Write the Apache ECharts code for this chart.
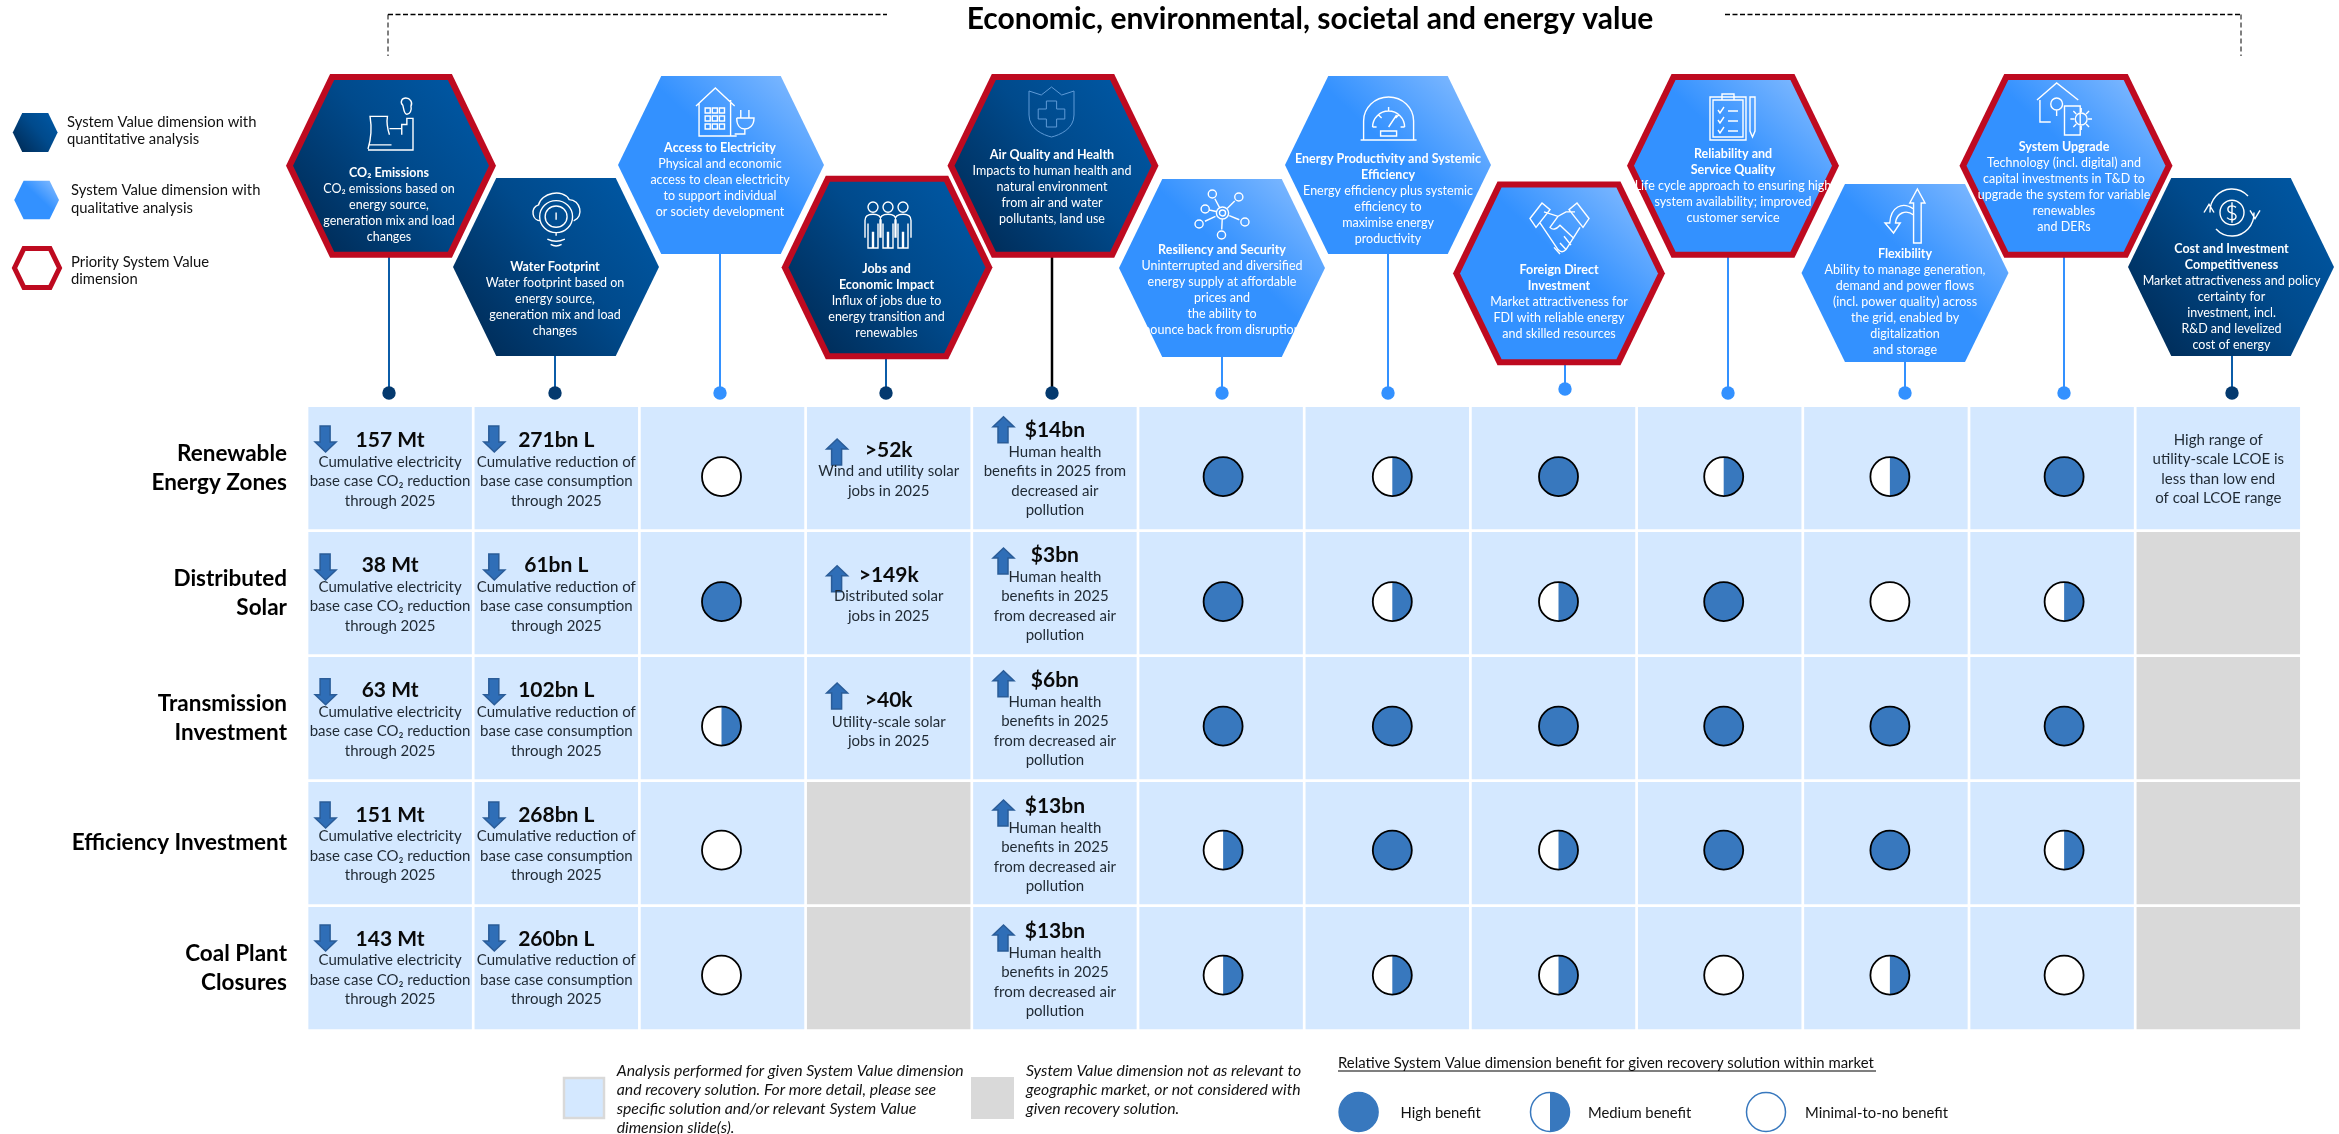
<!DOCTYPE html>
<html>
<head>
<meta charset="utf-8">
<title>System value matrix</title>
<style>
  html, body { margin: 0; padding: 0; background: #fff; }
  #main { width: 2339px; height: 1134px; }
</style>
<script src="https://cdn.jsdelivr.net/npm/echarts@6/dist/echarts.min.js"></script>
</head>
<body>
<div id="main"></div>
<script>
  // chart data
  const rows = ['Renewable\nEnergy Zones', 'Distributed\nSolar', 'Transmission\nInvestment', 'Efficiency Investment', 'Coal Plant\nClosures']
  const columns = ['CO2 Emissions', 'Water Footprint', 'Access to Electricity', 'Jobs and Economic Impact', 'Air Quality and Health', 'Resiliency and Security',
    'Energy Productivity', 'Foreign Direct Investment', 'Reliability', 'Flexibility', 'System Upgrade', 'Cost and Investment']

  const co2Values = ['157 Mt', '38 Mt', '63 Mt', '151 Mt', '143 Mt']
  const co2Note = 'Cumulative electricity\nbase case CO₂ reduction\nthrough 2025'
  const waterValues = ['271bn L', '61bn L', '102bn L', '268bn L', '260bn L']
  const waterNote = 'Cumulative reduction of\nbase case consumption\nthrough 2025'
  const jobsValues = ['>52k', '>149k', '>40k', null, null]
  const jobsNotes = ['Wind and utility solar\njobs in 2025', 'Distributed solar\njobs in 2025', 'Utility-scale solar\njobs in 2025', null, null]
  const healthValues = ['$14bn', '$3bn', '$6bn', '$13bn', '$13bn']
  const healthNoteFirst = 'Human health\nbenefits in 2025 from\ndecreased air\npollution'
  const healthNote = 'Human health\nbenefits in 2025\nfrom decreased air\npollution'
  const costNote = 'High range of\nutility-scale LCOE is\nless than low end\nof coal LCOE range'

  // 1 high, 0.5 medium, 0 minimal-to-no benefit
  const accessBenefit = [0, 1, 0.5, 0, 0]
  const resiliencyBenefit = [1, 1, 1, 0.5, 0.5]
  const productivityBenefit = [0.5, 0.5, 1, 1, 0.5]
  const fdiBenefit = [1, 0.5, 1, 0.5, 0.5]
  const reliabilityBenefit = [0.5, 1, 1, 1, 0]
  const flexibilityBenefit = [0.5, 0, 1, 1, 0.5]
  const upgradeBenefit = [1, 0.5, 1, 0.5, 0]

  const jobsRelevant = [1, 1, 1, 0, 0]
  const costRelevant = [1, 0, 0, 0, 0]

  const hexTitles = [['CO₂ Emissions'], ['Water Footprint'], ['Access to Electricity'], ['Jobs and', 'Economic Impact'], ['Air Quality and Health'], ['Resiliency and Security'],
    ['Energy Productivity and Systemic', 'Efficiency'], ['Foreign Direct', 'Investment'], ['Reliability and', 'Service Quality'], ['Flexibility'], ['System Upgrade'], ['Cost and Investment', 'Competitiveness']]
  const hexNotes = [
    ['CO₂ emissions based on', 'energy source,', 'generation mix and load', 'changes'],
    ['Water footprint based on', 'energy source,', 'generation mix and load', 'changes'],
    ['Physical and economic', 'access to clean electricity', 'to support individual', 'or society development'],
    ['Influx of jobs due to', 'energy transition and', 'renewables'],
    ['Impacts to human health and', 'natural environment', 'from air and water', 'pollutants, land use'],
    ['Uninterrupted and diversified', 'energy supply at affordable', 'prices and', 'the ability to', 'bounce back from disruption'],
    ['Energy efficiency plus systemic', 'efficiency to', 'maximise energy', 'productivity'],
    ['Market attractiveness for', 'FDI with reliable energy', 'and skilled resources'],
    ['Life cycle approach to ensuring high', 'system availability; improved', 'customer service'],
    ['Ability to manage generation,', 'demand and power flows', '(incl. power quality) across', 'the grid, enabled by', 'digitalization', 'and storage'],
    ['Technology (incl. digital) and', 'capital investments in T&D to', 'upgrade the system for variable', 'renewables', 'and DERs'],
    ['Market attractiveness and policy', 'certainty for', 'investment, incl.', 'R&D and levelized', 'cost of energy']
  ]
  const hexQuantitative = [1, 1, 0, 1, 1, 0, 0, 0, 0, 0, 0, 1]
  const hexPriority = [1, 0, 0, 1, 1, 0, 0, 1, 1, 0, 1, 0]

  // layout, page pixels: x,y,w,h hexagon box / tx,ty first text line / lx,dot connector / icon box
  const hexLayout = [
    { x: 391, y: 165.8, w: 210, h: 183.7, tx: 389, ty: 173, lx: 389, dot: 393, icon: [368, 98, 45, 52] },
    { x: 556, y: 267, w: 206, h: 178, tx: 555, ty: 267, lx: 555, dot: 393, icon: [533, 193, 47, 53] },
    { x: 721, y: 165, w: 206, h: 178, tx: 720, ty: 148, lx: 720, dot: 393, icon: [696, 88, 58, 48] },
    { x: 887, y: 267.5, w: 211, h: 183.7, tx: 886.5, ty: 268.7, lx: 886, dot: 393, icon: [865, 202, 46, 46] },
    { x: 1053, y: 165.8, w: 211, h: 183.7, tx: 1052, ty: 154.7, lx: 1052, dot: 393, icon: [1029, 87, 45, 50] },
    { x: 1222, y: 268, w: 206, h: 178, tx: 1222, ty: 250, lx: 1222, dot: 393, icon: [1195, 190, 54, 49] },
    { x: 1388, y: 165, w: 206, h: 178, tx: 1388, ty: 159, lx: 1388, dot: 393, icon: [1360.6, 97, 56, 43] },
    { x: 1559, y: 273.4, w: 212, h: 183.7, tx: 1559, ty: 270, lx: 1565, dot: 389, icon: [1530, 203, 59, 51] },
    { x: 1733, y: 165.8, w: 212, h: 183.7, tx: 1733, ty: 154, lx: 1728, dot: 393, icon: [1710, 94, 45, 46] },
    { x: 1905, y: 273, w: 207, h: 178, tx: 1905, ty: 254, lx: 1905, dot: 393, icon: [1885, 189, 40, 54] },
    { x: 2066, y: 165.8, w: 213, h: 183.7, tx: 2064, ty: 147, lx: 2064, dot: 393, icon: [2037, 83, 55, 52] },
    { x: 2231, y: 267, w: 206, h: 178, tx: 2231.5, ty: 249, lx: 2232, dot: 393, icon: [2204, 189, 56, 47] }
  ]

  // offsets inside a matrix cell, measured from the row top
  const metricLayout = {
    0: { arrowDx: -64.5, arrowTop: [19, 22, 21.7, 20, 18], valueTop: [33.7, 33.7, 33.7, 33, 32] },
    1: { arrowDx: -62, arrowTop: [19, 22, 21.7, 20, 18], valueTop: [33.7, 33.7, 33.7, 33, 32] },
    3: { arrowDx: -51.6, arrowTop: [32, 33.7, 26], valueTop: [43, 43, 43.7] },
    4: { arrowDx: -51.4, arrowTop: [9.7, 16, 13.7, 18, 18], valueTop: [23.7, 23.7, 23.7, 24.7, 24.7] }
  }
  const benefitNudgeX = { 2: -1, 5: 2, 6: 5, 7: 5, 8: 4, 9: 4, 10: 12 }
  const benefitNudgeY = [8.5, 8.5, 8, 7, 7]

  const FONT = 'Lato'
  const CELL_GAP = 1.35
  const BLUE = '#3878BE'
  const RED = '#BE0A20'

  const darkFill = () => new echarts.graphic.LinearGradient(1, 0, 0, 1, [
    { offset: 0, color: '#005AA8' }, { offset: 0.45, color: '#004A8C' }, { offset: 1, color: '#00274F' }
  ])
  const lightFill = () => new echarts.graphic.LinearGradient(1, 0, 0.2, 1, [
    { offset: 0, color: '#8DC0FF' }, { offset: 0.5, color: '#3391FF' }, { offset: 1, color: '#3391FF' }
  ])

  function hexPoints (cx, cy, w, h) {
    const t = w * 0.29
    return [[cx - t, cy - h / 2], [cx + t, cy - h / 2], [cx + w / 2, cy], [cx + t, cy + h / 2], [cx - t, cy + h / 2], [cx - w / 2, cy]]
  }

  // line icons
  const ring = (cx, cy, r) => `M${cx - r} ${cy}A${r} ${r} 0 1 0 ${cx + r} ${cy}A${r} ${r} 0 1 0 ${cx - r} ${cy}`
  const box = (x, y, w, h) => `M${x} ${y}h${w}v${h}h${-w}z`
  const person = x => ring(x + 8, 6, 5) + `M${x} 36V19Q${x} 13 ${x + 8} 13Q${x + 16} 13 ${x + 16} 19V36M${x + 3} 22V46H${x + 7.5}V30M${x + 13} 22V46H${x + 8.5}V30`
  const networkNodes = [[18, 4], [44, 7], [11, 19], [5, 34], [50, 32], [27, 45]]
  const hexIcons = [
    'M1 50C4 40 5 30 3 18H20C19 24 20 30 22 36M2 46H24M1 51H45V20H39V26H34V36M22 30H34M38 0C34 0 32 4 35 7C36 10 36 16 39 16C42 16 44 12 43 8C45 4 42 0 38 0',
    'M10 28C2 28 0 16 8 13C10 2 30 -3 36 8C46 8 50 24 40 28' + ring(24, 24, 15) + ring(24, 24, 10) + 'M24 20V27M24 39V42M16 45Q24 49 32 45M19 50Q24 53 29 50',
    'M0 18L19 0L38 18M3 15V48H40M34 12V48M44 22V30M52 22V30M40 30H57C57 38 52 41 48 41C44 41 40 38 40 30M48 41V46H38' +
      box(9, 20, 5, 5) + box(16, 20, 5, 5) + box(23, 20, 5, 5) + box(9, 28, 5, 5) + box(16, 28, 5, 5) + box(23, 28, 5, 5) + box(9, 36, 5, 5) + box(16, 36, 5, 5) + box(23, 36, 5, 5),
    person(0) + person(15) + person(30),
    'M0 4L12 8L22 0L32 8L44 4V28C44 42 30 48 22 50C14 48 0 42 0 28ZM17 14h10v8h8v10h-8v8h-10v-8h-8v-10h8z',
    ring(28, 23, 6) + ring(28, 23, 3) + networkNodes.map(n => ring(n[0], n[1], 4) + `M${n[0] + (28 - n[0]) * 0.25} ${n[1] + (23 - n[1]) * 0.25}L${28 - (28 - n[0]) * 0.3} ${23 - (23 - n[1]) * 0.3}`).join(''),
    'M3 43V24A25 24 0 0 1 53 24V43M0 43H56M12 30A16 16 0 0 1 44 30M28 30L36 18M12 30h4M40 30h4M18 18l3 3M28 10v4M38 18l-3 3' + box(20, 34, 16, 5),
    'M0 14L12 0L20 6L6 22ZM59 14L47 0L39 6L53 22ZM14 8L28 12L36 8L45 8M10 18L28 42Q32 46 36 42L50 22M28 12L20 22Q24 26 30 20L44 32M36 42L30 36M41 38L34 30M30 46L24 40',
    box(0, 3, 36, 43) + box(3, 6, 30, 37) + box(12, 0, 12, 6) + 'M8 16l2 3l4-6M18 17h10M8 26l2 3l4-6M18 27h10M8 36l2 3l4-6M18 37h10M40 3h5v34l-2.5 6l-2.5-6z',
    'M30 54V14H26L34 0L42 14H38V54ZM30 20C18 12 6 18 5 34H0L9 44L16 34H11C12 24 22 20 30 26',
    'M0 17L20 0L42 17M3 17V39H14' + ring(20, 21, 6) + 'M20 27V33' + box(28, 23, 16, 29) + ring(45, 36, 6) + 'M45 25v4M45 43v4M34 36h4M52 36h4M37 28l3 3M53 28l-3 3M37 44l3-3M53 44l-3-3',
    ring(28, 24, 12) + 'M32 19C28 16 23 18 24 22C25 26 32 23 32 28C32 32 26 32 23 29M28 14V34M6 24A22 22 0 0 1 44 8M50 24A22 22 0 0 1 12 40M0 24L5 16L10 24M46 22L51 30L56 22'
  ]

  // matrix series data, built from the arrays above
  const benefitByColumn = { 2: accessBenefit, 5: resiliencyBenefit, 6: productivityBenefit, 7: fdiBenefit, 8: reliabilityBenefit, 9: flexibilityBenefit, 10: upgradeBenefit }
  const cellData = []
  columns.forEach((c, col) => {
    rows.forEach((r, row) => {
      let relevant = 1
      if (col === 3) relevant = jobsRelevant[row]
      if (col === 11) relevant = costRelevant[row]
      cellData.push([col, row, relevant])
    })
  })
  const benefitData = []
  Object.keys(benefitByColumn).forEach(col => {
    benefitByColumn[col].forEach((v, row) => benefitData.push([+col, row, v]))
  })
  const metricCells = []
  rows.forEach((r, row) => {
    metricCells.push({ col: 0, row, value: co2Values[row], note: co2Note, dir: -1 })
    metricCells.push({ col: 1, row, value: waterValues[row], note: waterNote, dir: -1 })
    if (jobsValues[row]) metricCells.push({ col: 3, row, value: jobsValues[row], note: jobsNotes[row], dir: 1 })
    metricCells.push({ col: 4, row, value: healthValues[row], note: row === 0 ? healthNoteFirst : healthNote, dir: 1 })
  })
  const hexData = hexLayout.map(h => [h.x, h.y])

  function renderCell (params, api) {
    const c = api.coord([api.value(0), api.value(1)])
    const s = api.size([1, 1])
    return {
      type: 'rect',
      shape: { x: c[0] - s[0] / 2 + CELL_GAP, y: c[1] - s[1] / 2 + CELL_GAP, width: s[0] - CELL_GAP * 2, height: s[1] - CELL_GAP * 2 },
      style: { fill: api.value(2) ? '#D4E8FF' : '#D9D9D9' }
    }
  }

  function benefitCircle (cx, cy, r, v, stroke, lineWidth) {
    const children = [{ type: 'circle', shape: { cx, cy, r }, style: { fill: v === 1 ? BLUE : '#fff' } }]
    if (v === 0.5) {
      children.push({ type: 'sector', shape: { cx, cy, r0: 0, r, startAngle: -Math.PI / 2, endAngle: Math.PI / 2 }, style: { fill: BLUE } })
    }
    children.push({ type: 'circle', shape: { cx, cy, r }, style: { fill: 'none', stroke, lineWidth } })
    return children
  }

  function renderBenefit (params, api) {
    const col = api.value(0)
    const row = api.value(1)
    const c = api.coord([col, row])
    return { type: 'group', children: benefitCircle(c[0] + (benefitNudgeX[col] || 0), c[1] + benefitNudgeY[row], 19.5, api.value(2), '#000', 1.8) }
  }

  function arrowPoints (cx, top, dir) {
    const h = 26
    const pts = [[-10.5, 10], [0, 0], [10.5, 10], [4.5, 10], [4.5, 26], [-5.5, 26], [-5.5, 10]]
    return pts.map(p => [cx + p[0], dir > 0 ? top + p[1] : top + h - p[1]])
  }

  function renderMetric (params, api) {
    const m = metricCells[params.dataIndex]
    const c = api.coord([m.col, m.row])
    const rowTop = c[1] - api.size([1, 1])[1] / 2 + CELL_GAP
    const l = metricLayout[m.col]
    const text = '{v|' + m.value + '}\n' + m.note.split('\n').map(t => '{n|' + t + '}').join('\n')
    return {
      type: 'group',
      children: [
        {
          type: 'polygon',
          shape: { points: arrowPoints(c[0] + l.arrowDx, rowTop + l.arrowTop[m.row], m.dir) },
          style: { fill: '#2F6EB7', stroke: '#2A5C98', lineWidth: 1.5 }
        },
        {
          type: 'text',
          x: c[0],
          y: rowTop + l.valueTop[m.row] - 12,
          style: {
            text,
            align: 'center',
            verticalAlign: 'top',
            rich: {
              v: { fontFamily: FONT, fontWeight: 'bold', fontSize: 21, lineHeight: 24, fill: '#0A0A0A', align: 'center' },
              n: { fontFamily: FONT, fontSize: 15, lineHeight: 19.3, fill: '#1F2933', align: 'center' }
            }
          }
        }
      ]
    }
  }

  function renderCost (params, api) {
    const c = api.coord([11, 0])
    return {
      type: 'text',
      x: c[0],
      y: c[1] - 62.5 + CELL_GAP + 23.5,
      style: { text: costNote, align: 'center', verticalAlign: 'top', fontFamily: FONT, fontSize: 15, lineHeight: 19.3, fill: '#1F2933' }
    }
  }

  function renderConnector (params, api) {
    const i = params.dataIndex
    const h = hexLayout[i]
    const top = api.coord([h.lx, h.y + h.h / 2 - 2])
    const end = api.coord([h.lx, h.dot])
    const q = hexQuantitative[i]
    const lineColor = i === 4 ? '#000' : (q ? '#0B5CA8' : '#3391FF')
    return {
      type: 'group',
      children: [
        { type: 'line', shape: { x1: top[0], y1: top[1], x2: end[0], y2: end[1] }, style: { stroke: lineColor, lineWidth: i === 4 ? 2.5 : 2 } },
        { type: 'circle', shape: { cx: end[0], cy: end[1], r: 6.7 }, style: { fill: q ? '#04396E' : '#3391FF' } }
      ]
    }
  }

  function renderHex (params, api) {
    const i = params.dataIndex
    const h = hexLayout[i]
    const c = api.coord([api.value(0), api.value(1)])
    const fill = hexQuantitative[i] ? darkFill() : lightFill()
    const children = []
    if (hexPriority[i]) {
      children.push({ type: 'polygon', shape: { points: hexPoints(c[0], c[1], h.w, h.h) }, style: { fill: RED } })
      children.push({ type: 'polygon', shape: { points: hexPoints(c[0], c[1], h.w - 14, h.h - 12) }, style: { fill } })
    } else {
      children.push({ type: 'polygon', shape: { points: hexPoints(c[0], c[1], h.w, h.h) }, style: { fill } })
    }
    return { type: 'group', children }
  }

  function renderHexLabel (params, api) {
    const i = params.dataIndex
    const h = hexLayout[i]
    const at = api.coord([h.tx, h.ty])
    const corner = api.coord([h.icon[0], h.icon[1]])
    const text = hexTitles[i].map(t => '{t|' + t + '}').concat(hexNotes[i].map(t => '{d|' + t + '}')).join('\n')
    return {
      type: 'group',
      children: [
        {
          type: 'path',
          shape: { pathData: hexIcons[i], x: corner[0], y: corner[1], width: h.icon[2], height: h.icon[3], layout: 'cover' },
          style: { fill: 'none', stroke: i === 4 ? '#5E9AD6' : '#fff', lineWidth: i === 4 ? 1 : 1.4 }
        },
        {
          type: 'text',
          x: at[0],
          y: at[1] - 8,
          style: {
            text,
            align: 'center',
            verticalAlign: 'top',
            rich: {
              t: { fontFamily: FONT, fontWeight: 'bold', fontSize: 12.5, lineHeight: 16, fill: '#fff', align: 'center' },
              d: { fontFamily: FONT, fontSize: 12.5, lineHeight: 16, fill: '#fff', align: 'center' }
            }
          }
        }
      ]
    }
  }

  const textEl = (x, y, text, font, extra) => ({
    type: 'text', x, y, style: Object.assign({ text, font, fill: '#111', verticalAlign: 'middle' }, extra || {})
  })
  const legendFont = '14.8px ' + FONT
  const noteFont = 'italic 15.8px ' + FONT

  function legendCircle (cx, cy, v) {
    return benefitCircle(cx, cy, 19.5, v, BLUE, 1.5)
  }

  const graphicEls = [
    // dashed bracket around the heading
    { type: 'polyline', shape: { points: [[388, 14.5], [887, 14.5]] }, style: { stroke: '#000', lineWidth: 1.6, lineDash: [5, 2.5], fill: 'none' } },
    { type: 'polyline', shape: { points: [[388, 14.5], [388, 56]] }, style: { stroke: '#000', lineWidth: 1, lineDash: [5, 3], fill: 'none' } },
    { type: 'polyline', shape: { points: [[1725, 14.5], [2241, 14.5]] }, style: { stroke: '#000', lineWidth: 1.6, lineDash: [5, 2.5], fill: 'none' } },
    { type: 'polyline', shape: { points: [[2241, 14.5], [2241, 56]] }, style: { stroke: '#000', lineWidth: 1, lineDash: [5, 3], fill: 'none' } },
    // left legend
    { type: 'polygon', shape: { points: hexPoints(35.2, 132.5, 44.8, 39) }, style: { fill: darkFill() } },
    { type: 'polygon', shape: { points: hexPoints(36.6, 200, 44.8, 38.5) }, style: { fill: lightFill() } },
    { type: 'polygon', shape: { points: hexPoints(37, 268, 45, 39) }, style: { fill: 'none', stroke: RED, lineWidth: 5 } },
    textEl(67, 130.5, 'System Value dimension with\nquantitative analysis', legendFont, { lineHeight: 17 }),
    textEl(71, 199, 'System Value dimension with\nqualitative analysis', legendFont, { lineHeight: 18 }),
    textEl(71, 270.5, 'Priority System Value\ndimension', legendFont, { lineHeight: 17 }),
    // bottom legend
    { type: 'rect', shape: { x: 564, y: 1078, width: 40, height: 40 }, style: { fill: '#D4E8FF', stroke: '#D9D9D9', lineWidth: 2.5 } },
    { type: 'rect', shape: { x: 971, y: 1077, width: 43, height: 42 }, style: { fill: '#D9D9D9' } },
    textEl(616.7, 1061, 'Analysis performed for given System Value dimension\nand recovery solution. For more detail, please see\nspecific solution and/or relevant System Value\ndimension slide(s).', noteFont, { lineHeight: 19.2, verticalAlign: 'top' }),
    textEl(1026, 1061, 'System Value dimension not as relevant to\ngeographic market, or not considered with\ngiven recovery solution.', noteFont, { lineHeight: 19.2, verticalAlign: 'top' }),
    textEl(1338, 1063, 'Relative System Value dimension benefit for given recovery solution within market', '14.9px ' + FONT),
    { type: 'line', shape: { x1: 1338, y1: 1071, x2: 1876, y2: 1071 }, style: { stroke: '#000', lineWidth: 1.2 } },
    { type: 'group', children: legendCircle(1358.6, 1112, 1) },
    { type: 'group', children: legendCircle(1550, 1112, 0.5) },
    { type: 'group', children: legendCircle(1766, 1112, 0) },
    textEl(1400.5, 1113.7, 'High benefit', legendFont),
    textEl(1588, 1113.7, 'Medium benefit', legendFont),
    textEl(1805, 1113.7, 'Minimal-to-no benefit', legendFont)
  ]

  const chart = echarts.init(document.getElementById('main'))
  const option = {
    backgroundColor: '#fff',
    animation: false,
    title: {
      text: 'Economic, environmental, societal and energy value',
      left: 1305,
      top: -1,
      textAlign: 'center',
      textStyle: { fontFamily: FONT, fontWeight: 'bold', fontSize: 30, color: '#000' }
    },
    grid: [
      { left: 307, top: 405.65, width: 1994.4, height: 625 },
      { left: 0, top: 0, width: 2339, height: 1134 }
    ],
    xAxis: [
      { type: 'category', data: columns, gridIndex: 0, axisLine: { show: false }, axisTick: { show: false }, axisLabel: { show: false }, splitLine: { show: false } },
      { type: 'value', gridIndex: 1, min: 0, max: 2339, show: false }
    ],
    yAxis: [
      {
        type: 'category',
        data: rows,
        gridIndex: 0,
        inverse: true,
        axisLine: { show: false },
        axisTick: { show: false },
        splitLine: { show: false },
        axisLabel: { fontFamily: FONT, fontWeight: 'bold', fontSize: 22.5, lineHeight: 29, color: '#000', margin: 20, align: 'right' }
      },
      { type: 'value', gridIndex: 1, min: 0, max: 1134, inverse: true, show: false }
    ],
    graphic: { elements: graphicEls },
    series: [
      { type: 'custom', name: 'cells', xAxisIndex: 0, yAxisIndex: 0, data: cellData, renderItem: renderCell, silent: true, z: 1 },
      { type: 'custom', name: 'benefit', xAxisIndex: 0, yAxisIndex: 0, data: benefitData, renderItem: renderBenefit, silent: true, z: 2 },
      { type: 'custom', name: 'metrics', xAxisIndex: 0, yAxisIndex: 0, data: metricCells.map(m => [m.col, m.row]), renderItem: renderMetric, silent: true, z: 3 },
      { type: 'custom', name: 'cost', xAxisIndex: 0, yAxisIndex: 0, data: [[11, 0]], renderItem: renderCost, silent: true, z: 3 },
      { type: 'custom', name: 'connectors', xAxisIndex: 1, yAxisIndex: 1, data: hexData, renderItem: renderConnector, silent: true, z: 4 },
      { type: 'custom', name: 'hexagons', xAxisIndex: 1, yAxisIndex: 1, data: hexData, renderItem: renderHex, silent: true, z: 5 },
      { type: 'custom', name: 'hexLabels', xAxisIndex: 1, yAxisIndex: 1, data: hexData, renderItem: renderHexLabel, silent: true, z: 6 }
    ]
  }
  chart.setOption(option)
</script>
</body>
</html>
